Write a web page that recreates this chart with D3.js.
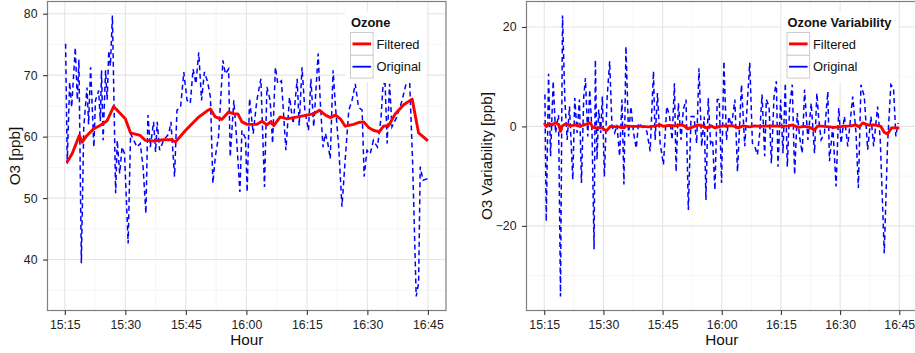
<!DOCTYPE html>
<html>
<head>
<meta charset="utf-8">
<script src="https://cdn.jsdelivr.net/npm/d3@7"></script>
<style>
  body { margin: 0; background: #fff; }
  svg { display: block; font-family: "Liberation Sans", Arial, Helvetica, sans-serif; }
</style>
</head>
<body>
<svg id="chart" width="915" height="353"></svg>
<script>
// time is minutes after 15:15
const timeTicks = [0, 15, 30, 45, 60, 75, 90];
const timeLabels = ["15:15", "15:30", "15:45", "16:00", "16:15", "16:30", "16:45"];

const o3Ticks = [40, 50, 60, 70, 80];
const varTicks = [-20, 0, 20];

// left panel: ozone
const ozoneOrigTime = [0.2,0.6,1.2,1.7,2.6,3.1,3.5,4.1,4.7,5.5, 5.9,6.4,7.2,7.6,8.4,8.8,9.1,9.5,10.1,10.5,
  10.9,11.3,11.8,12.6,13.0,13.6,14.2,14.8,15.7,16.3, 17.1,17.9,18.7,19.4,20.1,20.6,21.2,22.0,22.5,22.9,
  23.5,24.5,25.8,26.3,27.2,27.8,28.7,29.5,30.3,31.1, 31.8,32.5,33.2,33.9,34.6,35.4,36.1,36.7,37.3,38.1,
  39.2,39.8,40.6,41.0,41.9,42.5,43.4,43.9,44.8,45.2, 45.8,46.7,47.6,48.6,49.5,50.1,50.9,51.5,52.2,52.8,
  53.7,54.8,55.7,56.6,57.6,58.1,58.8,59.5,60.4,61.0, 61.7,62.8,63.3,64.0,64.6,65.2,65.8,66.5,67.1,67.9,
  68.7,69.5,70.4,71.2,72.0,72.8,73.7,74.2,74.9,75.7, 76.5,77.5,78.4,78.9,79.4,79.9,80.5,81.1,82.3,83.6,
  84.6,85.5,86.2,87.1,87.7,88.1,88.8,90.0];
const ozoneOrig = [75.1,55.6,68.9,64.8,74.5,66.0,72.5,39.4,61.6,68.0, 62.0,71.3,58.3,65.9,67.5,62.5,70.8,59.4,70.8,66.0,
  74.0,71.5,79.7,50.8,59.4,54.0,58.3,57.2,42.6,60.5, 59.4,58.3,58.9,55.1,47.5,63.5,58.3,62.4,57.5,62.4,
  57.8,59.4,60.5,62.4,53.5,64.3,64.8,70.5,65.9,65.4, 71.0,68.6,73.7,65.9,70.5,68.9,66.4,52.4,56.7,60.0,
  72.4,70.2,71.0,56.7,65.9,60.5,51.0,61.0,59.7,51.0, 66.2,60.5,65.9,69.4,51.8,68.1,65.9,58.9,71.3,68.6,
  69.1,57.8,66.4,62.1,69.4,61.8,71.3,64.3,61.0,69.4, 61.6,73.5,65.9,58.3,60.5,58.9,56.4,70.8,64.8,58.3,
  48.6,56.2,64.3,65.9,68.6,64.8,64.3,53.5,57.8,57.2, 59.4,58.3,63.2,68.6,68.6,58.9,68.6,61.6,63.2,65.9,
  68.6,68.6,56.2,34.0,36.2,55.1,52.9,53.2];
const ozoneFiltTime = [0.5,1.8,3.6,4.3,5.5,7.2,8.4,9.7,10.5,12.1, 13.4,15.0,16.3,18.7,19.9,22.0,24.5,26.6,27.4,29.9,
  31.1,33.2,35.3,36.1,37.3,38.9,40.6,41.9,42.9,43.9, 45.2,47.6,48.9,50.1,51.0,51.8,53.4,55.1,56.7,58.4,
  60.0,61.6,63.1,64.6,65.8,67.1,68.3,69.5,71.6,72.8, 74.1,75.3,76.6,78.0,79.0,80.3,81.9,84.0,86.1,87.7,90.0];
const ozoneFilt = [55.8,57.2,60.2,59.1,60.2,61.3,61.7,62.2,62.6,64.9, 64.0,62.9,60.6,60.2,59.4,59.3,59.5,59.5,59.1,61.0,
  61.8,63.2,64.2,64.5,63.2,62.8,64.0,63.7,63.7,62.4, 62.0,62.0,62.5,61.9,62.4,61.8,63.2,62.9,63.1,63.3,
  63.5,63.7,64.3,63.5,63.1,63.5,62.9,61.7,62.0,62.3, 62.4,61.5,61.0,60.8,61.7,61.8,63.7,65.2,66.1,60.6,59.3];

// right panel: ozone variability
const varOrigTime = [0.17,0.51,1.09,1.60,2.27,2.86,3.62,4.12,4.63,5.22, 5.81,6.40,7.24,7.74,8.33,8.92,9.43,10.02,10.44,11.03,
  11.53,12.12,12.63,12.96,13.38,13.80,14.31,14.73,15.24,15.91, 16.58,17.17,17.85,18.43,19.11,19.70,20.20,20.71,21.38,21.97,
  22.64,23.32,23.91,24.75,26.01,26.85,27.69,28.11,28.70,29.38, 30.22,31.06,31.73,32.41,33.00,33.42,34.01,34.68,35.27,35.94,
  36.53,37.21,37.96,38.64,39.23,39.90,40.57,40.99,41.58,42.17, 42.68,43.27,43.86,44.36,44.95,45.54,46.21,46.80,47.47,48.32,
  48.99,50.00,50.84,51.52,52.10,52.78,53.37,54.04,54.63,55.22, 55.89,56.31,56.99,57.58,58.25,58.84,59.26,59.93,60.52,61.11,
  61.62,62.21,62.88,63.47,64.14,64.73,65.40,65.99,66.84,67.68, 68.52,69.11,69.61,70.20,71.04,71.89,72.31,73.15,73.99,74.66,
  75.25,76.09,76.94,78.20,79.04,79.63,80.30,81.14,81.99,82.83, 83.50,84.51,85.19,86.20,87.04,87.88,88.55,89.14,89.70];
const varOrig = [6.4,-19.1,10.6,-6.0,9.1,-1.3,2.3,-34.2,22.3,5.4, -2.7,4.0,-10.7,5.7,-1.3,5.4,-11.4,6.0,9.7,-2.0,
  7.4,-1.3,-24.7,13.4,-6.7,3.4,-1.3,6.0,-10.1,5.4, 13.1,0,-1.3,0.3,-6.0,5.4,-11.7,16.1,-2.0,4.0,
  -1.3,-4.4,0.7,0,-1.0,-5.0,11.1,-2.7,6.7,-3.4, -7.7,4.0,2.3,-2.7,8.7,-9.1,4.7,-2.7,3.4,5.4,
  -16.8,2.0,2.0,-3.4,11.7,-4.0,2.0,-14.8,5.7,-3.4, -2.7,-12.8,5.4,5.4,-11.4,13.1,-2.7,2.0,0,5.4,
  -9.1,8.4,-4.0,5.4,12.8,-3.4,-4.0,-5.7,-1.3,6.4, -6.0,5.4,4.0,-7.4,6.0,9.1,-8.1,5.4,-5.4,8.7,
  -8.1,4.0,8.4,-9.7,2.7,-2.0,-5.4,7.4,-2.7,4.7, -5.4,6.7,1.3,-2.7,-1.3,7.0,-7.0,0,-12.1,3.7,
  -3.4,2.0,-4.0,6.0,-1.3,-12.4,8.4,6.0,-4.7,2.0, -4.0,4.0,-2.7,-25.5,-3.4,8.4,7.7,-2.0,0.7];
const varFiltTime = [0,0.5,1.18,2.02,2.86,3.70,4.12,4.55,5.39,6.65, 7.91,9.18,10.02,10.86,11.70,12.29,12.96,14.65,15.74,16.75,
  18.86,20.12,20.54,22.22,24.75,26.43,28.11,29.38,30.22,31.48, 33.16,34.85,35.69,36.36,37.37,39.06,40.32,41.16,42.42,43.27,
  44.53,45.79,47.90,49.16,50.42,52.10,53.37,55.05,57.58,60.10, 61.78,63.05,64.31,65.99,67.26,68.52,69.36,71.04,73.57,75.67,
  77.78,79.04,79.88,80.72,81.99,83.67,85.35,86.20,87.04,88.05, 88.89,90.0];
const varFilt = [0.7,0,0.5,0.3,0.8,0.3,-1.0,0.1,0.5,0.1, 0.3,0,0.3,0.5,0.7,-0.2,-0.3,-0.3,-0.9,0,
  -0.1,-0.3,0.1,0,0,-0.1,0.1,0.3,0,0.2, 0.1,0.3,0,-0.5,-0.2,0.3,0,-0.3,0.1,-0.3,
  0,0.1,0.1,-0.3,0.1,-0.1,0.1,0,0.1,0, 0.1,0.3,-0.2,0,-0.2,-0.7,0.1,0,-0.2,0,
  0.1,0.3,-0.1,0.7,0.3,0.3,0,-1.2,-1.5,-0.3, -0.3,-0.3];

const svg = d3.select('#chart');
const FONT_TICK = 12.3;
const FONT_TITLE = 15.3;
const FONT_LEGEND = 12.9;

// ggplot-style 5% expansion
function expand(ext) {
  const pad = (ext[1] - ext[0]) * 0.05;
  return [ext[0] - pad, ext[1] + pad];
}

function drawPanel(opt) {
  const g = svg.append('g');
  const xDom = expand(d3.extent(opt.origTime.concat(opt.filtTime)));
  const yDom = expand(d3.extent(opt.orig.concat(opt.filt)));
  const x = d3.scaleLinear().domain(xDom).range([opt.left, opt.right]);
  const y = d3.scaleLinear().domain(yDom).range([opt.bottom, opt.top]);

  // minor grid
  const xStep = timeTicks[1] - timeTicks[0];
  const xMinor = d3.range(timeTicks[0] - xStep / 2, timeTicks[timeTicks.length - 1] + xStep, xStep)
    .filter(v => v > xDom[0] && v < xDom[1]);
  const yStep = opt.yTicks[1] - opt.yTicks[0];
  const yMinor = d3.range(opt.yTicks[0] - yStep / 2, opt.yTicks[opt.yTicks.length - 1] + yStep, yStep)
    .filter(v => v > yDom[0] && v < yDom[1]);

  g.selectAll('line.xminor').data(xMinor).enter().append('line')
    .attr('x1', d => x(d)).attr('x2', d => x(d)).attr('y1', opt.top).attr('y2', opt.bottom)
    .attr('stroke', '#f4f4f4').attr('stroke-width', 0.8);
  g.selectAll('line.yminor').data(yMinor).enter().append('line')
    .attr('y1', d => y(d)).attr('y2', d => y(d)).attr('x1', opt.left).attr('x2', opt.right)
    .attr('stroke', '#f4f4f4').attr('stroke-width', 0.8);

  // major grid
  g.selectAll('line.xmajor').data(timeTicks).enter().append('line')
    .attr('x1', d => x(d)).attr('x2', d => x(d)).attr('y1', opt.top).attr('y2', opt.bottom)
    .attr('stroke', '#e5e5e5').attr('stroke-width', 1.1);
  g.selectAll('line.ymajor').data(opt.yTicks).enter().append('line')
    .attr('y1', d => y(d)).attr('y2', d => y(d)).attr('x1', opt.left).attr('x2', opt.right)
    .attr('stroke', '#e5e5e5').attr('stroke-width', 1.1);

  // clip to the panel
  const clipId = 'clip-' + opt.id;
  svg.append('defs').append('clipPath').attr('id', clipId)
    .append('rect')
    .attr('x', opt.left).attr('y', opt.top)
    .attr('width', opt.right - opt.left).attr('height', opt.bottom - opt.top);

  const line = d3.line().x(d => x(d[0])).y(d => y(d[1]));
  const data = g.append('g').attr('clip-path', `url(#${clipId})`);

  data.append('path')
    .datum(d3.zip(opt.origTime, opt.orig))
    .attr('d', line)
    .attr('fill', 'none')
    .attr('stroke', '#0000ff')
    .attr('stroke-width', 1.5)
    .attr('stroke-dasharray', '5,3.5');

  data.append('path')
    .datum(d3.zip(opt.filtTime, opt.filt))
    .attr('d', line)
    .attr('fill', 'none')
    .attr('stroke', '#ff0000')
    .attr('stroke-width', 2.9)
    .attr('stroke-linejoin', 'round');

  // panel border
  g.append('rect')
    .attr('x', opt.left).attr('y', opt.top)
    .attr('width', opt.right - opt.left).attr('height', opt.bottom - opt.top)
    .attr('fill', 'none').attr('stroke', '#7f7f7f').attr('stroke-width', 1.2);

  // axes
  const xAxis = g.append('g')
    .attr('transform', `translate(0,${opt.bottom})`)
    .call(d3.axisBottom(x).tickValues(timeTicks).tickFormat((d, i) => timeLabels[i])
      .tickSize(4.5).tickPadding(5.5));
  const yAxis = g.append('g')
    .attr('transform', `translate(${opt.left},0)`)
    .call(d3.axisLeft(y).tickValues(opt.yTicks).tickFormat(d => d < 0 ? '\u2212' + Math.abs(d) : d)
      .tickSize(4.5).tickPadding(5.5));
  [xAxis, yAxis].forEach(a => {
    a.select('.domain').remove();
    a.selectAll('.tick line').attr('stroke', '#333').attr('stroke-width', 1.1);
    a.selectAll('.tick text').attr('fill', '#222')
      .style('font-size', FONT_TICK + 'px').style('font-family', 'inherit');
  });

  // axis titles
  g.append('text')
    .attr('x', (opt.left + opt.right) / 2).attr('y', 345)
    .attr('text-anchor', 'middle')
    .style('font-size', FONT_TITLE + 'px').attr('fill', '#111')
    .text('Hour');
  g.append('text')
    .attr('transform', `translate(${opt.yTitleX},${(opt.top + opt.bottom) / 2}) rotate(-90)`)
    .attr('text-anchor', 'middle').attr('dy', '0.36em')
    .style('font-size', FONT_TITLE + 'px').attr('fill', '#111')
    .text(opt.yTitle);

  // legend (drawn over the data, like ggplot's inside legend)
  const lg = g.append('g').attr('transform', `translate(${opt.legendX},11.5)`);
  const bg = lg.append('rect').attr('fill', '#fff');
  lg.append('text')
    .attr('x', 6).attr('y', 15.5)
    .style('font-size', FONT_LEGEND + 'px').style('font-weight', 'bold').attr('fill', '#111')
    .text(opt.legendTitle);
  const keys = [{ label: 'Filtered', color: '#ff0000', width: 2.9 },
                { label: 'Original', color: '#0000ff', width: 1.8 }];
  const items = lg.selectAll('g.key').data(keys).enter().append('g')
    .attr('transform', (d, i) => `translate(5.5,${21 + i * 22.8})`);
  items.append('rect')
    .attr('width', 22.6).attr('height', 22.8)
    .attr('fill', '#fff').attr('stroke', '#cccccc').attr('stroke-width', 1);
  items.append('line')
    .attr('x1', 2).attr('x2', 20.6).attr('y1', 11.4).attr('y2', 11.4)
    .attr('stroke', d => d.color).attr('stroke-width', d => d.width);
  items.append('text')
    .attr('x', 26).attr('y', 11.4).attr('dy', '0.36em')
    .style('font-size', FONT_LEGEND + 'px').attr('fill', '#111')
    .text(d => d.label);
  const bb = lg.node().getBBox();
  bg.attr('x', 0).attr('y', 0).attr('width', bb.x + bb.width + 5.5).attr('height', 21 + 2 * 22.8 + 4);
}

drawPanel({
  id: 'o3', left: 47.5, right: 446, top: 1.5, bottom: 310.5,
  origTime: ozoneOrigTime, orig: ozoneOrig, filtTime: ozoneFiltTime, filt: ozoneFilt,
  yTicks: o3Ticks, yTitle: 'O3 [ppb]', yTitleX: 14,
  legendTitle: 'Ozone', legendX: 345
});

drawPanel({
  id: 'var', left: 526.5, right: 917, top: 1.5, bottom: 310.5,
  origTime: varOrigTime, orig: varOrig, filtTime: varFiltTime, filt: varFilt,
  yTicks: varTicks, yTitle: 'O3 Variability [ppb]', yTitleX: 486,
  legendTitle: 'Ozone Variability', legendX: 781.5
});
</script>
</body>
</html>
